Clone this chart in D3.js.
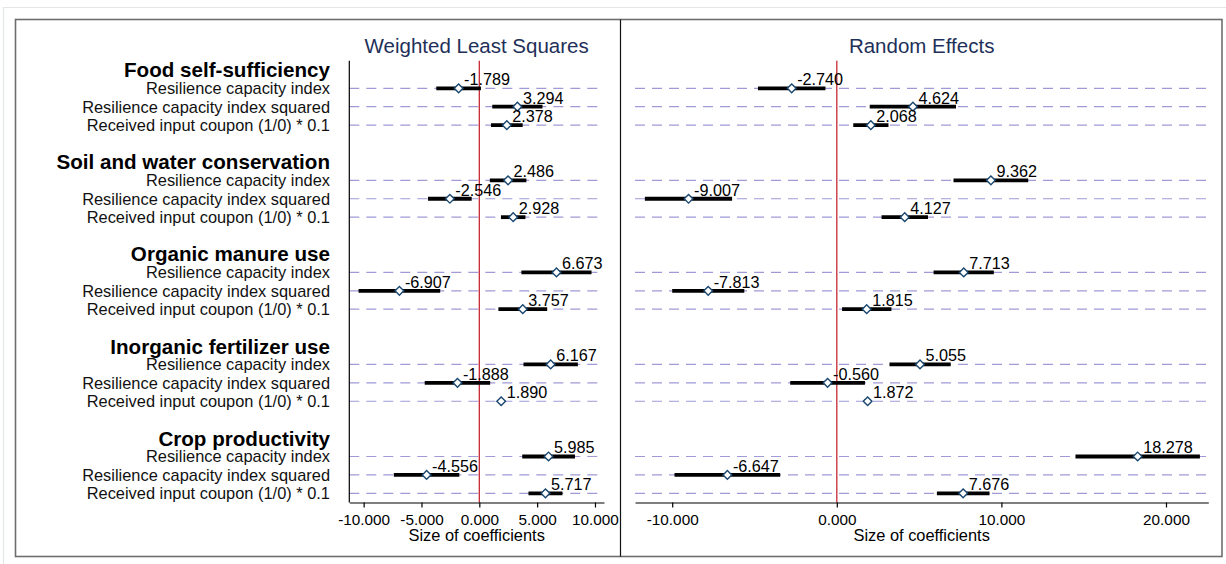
<!DOCTYPE html>
<html>
<head>
<meta charset="utf-8">
<script src="https://cdn.jsdelivr.net/npm/d3@7"></script>
<style>
  html, body { margin: 0; padding: 0; background: #ffffff; }
  svg { display: block; font-family: "Liberation Sans", Arial, Helvetica, sans-serif; }
</style>
</head>
<body>
<svg id="chart" width="1226" height="564"></svg>
<script>
// Outcome groups and the regressors reported within each group
const groups = ["Food self-sufficiency", "Soil and water conservation", "Organic manure use",
                "Inorganic fertilizer use", "Crop productivity"];
const terms = ["Resilience capacity index", "Resilience capacity index squared",
               "Received input coupon (1/0) * 0.1"];

// Weighted least squares: point estimates and 95% confidence bounds (group by group, term by term)
const wlsCoef = [-1.789, 3.294, 2.378, 2.486, -2.546, 2.928, 6.673, -6.907, 3.757,
                 6.167, -1.888, 1.890, 5.985, -4.556, 5.717];
const wlsLow  = [-3.72, 1.12, 1.01, 0.91, -4.44, 1.87, 3.64, -10.44, 1.65,
                 3.82, -4.72, 1.69, 3.71, -7.39, 4.25];
const wlsHigh = [0.14, 5.46, 3.75, 4.07, -0.66, 3.99, 9.70, -3.38, 5.87,
                 8.52, 0.94, 2.09, 8.27, -1.73, 7.19];

// Random effects: point estimates and 95% confidence bounds
const reCoef = [-2.740, 4.624, 2.068, 9.362, -9.007, 4.127, 7.713, -7.813, 1.815,
                5.055, -0.560, 1.872, 18.278, -6.647, 7.676];
const reLow  = [-4.79, 2.00, 1.00, 7.09, -11.66, 2.72, 5.88, -10.00, 0.32,
                3.20, -2.83, 1.67, 14.50, -9.86, 6.08];
const reHigh = [-0.69, 7.24, 3.14, 11.63, -6.36, 5.54, 9.54, -5.62, 3.32,
                6.92, 1.71, 2.07, 22.06, -3.44, 9.28];

// Axis tick values
const wlsTicks = [-10, -5, 0, 5, 10];
const reTicks = [-10, 0, 10, 20];

const svg = d3.select("#chart");
// Three decimals with a plain hyphen-minus
const fmt = d3.formatLocale({ decimal: ".", thousands: ",", grouping: [3], currency: ["", ""], minus: "-" }).format(".3f");

// Page border and graph frame
svg.append("path").attr("d", "M3.5,570 V7.5 H1232")
  .attr("fill", "none").attr("stroke", "#e3e8e7").attr("stroke-width", 1.2);
svg.append("rect").attr("x", 15.5).attr("y", 19.5).attr("width", 1206.5).attr("height", 537)
  .attr("fill", "none").attr("stroke", "#6e6e6e").attr("stroke-width", 1.6);
svg.append("line").attr("x1", 620.5).attr("x2", 620.5).attr("y1", 19.5).attr("y2", 556.5)
  .attr("stroke", "#111").attr("stroke-width", 1.2);

// Vertical position: each group has a heading slot plus three term slots and a spacer
const y = d3.scaleLinear().domain([-1.5, 22.5]).range([60.7, 502.5]);
const rows = [];
groups.forEach((g, gi) => terms.forEach((t, ti) => rows.push({ g: gi, t: ti, slot: gi * 5 + ti })));

function panel(opts) {
  const { x, title, coef, low, high, ticks, showLabels } = opts;
  const [x0, x1] = x.range();
  const p = svg.append("g");

  // Title
  p.append("text").attr("x", (x0 + x1) / 2).attr("y", 53)
    .attr("text-anchor", "middle").attr("font-size", 20.5).attr("fill", "#1e3059").text(title);

  // Dashed reference line for each row
  p.selectAll("line.grid").data(rows).join("line").attr("class", "grid")
    .attr("x1", x0).attr("x2", x1)
    .attr("y1", d => y(d.slot)).attr("y2", d => y(d.slot))
    .attr("stroke", "#a09bd6").attr("stroke-width", 1.2).attr("stroke-dasharray", "10,7");

  // Zero line
  p.append("line").attr("x1", x(0)).attr("x2", x(0)).attr("y1", y(-1.5)).attr("y2", y(22.5))
    .attr("stroke", "#c62834").attr("stroke-width", 1.3);

  // Left axis line (row labels side only)
  if (showLabels) {
    p.append("line").attr("x1", x0).attr("x2", x0).attr("y1", y(-1.5)).attr("y2", y(22.5))
      .attr("stroke", "#000").attr("stroke-width", 1.2);

    // Group headings
    p.selectAll("text.head").data(groups).join("text").attr("class", "head")
      .attr("x", 330).attr("y", (d, i) => y(i * 5 - 1) + 7.5)
      .attr("text-anchor", "end").attr("font-size", 20.6).attr("font-weight", "bold")
      .attr("fill", "#000").text(d => d);

    // Term labels
    p.selectAll("text.term").data(rows).join("text").attr("class", "term")
      .attr("x", 330).attr("y", d => y(d.slot) + 5.8)
      .attr("text-anchor", "end").attr("font-size", 16.4).attr("fill", "#111")
      .text(d => terms[d.t]);
  }

  // Bottom axis
  const ax = p.append("g").attr("transform", `translate(0,${y(22.5)})`)
    .call(d3.axisBottom(x).tickValues(ticks).tickFormat(fmt).tickSize(5).tickSizeOuter(0).tickPadding(7));
  ax.select(".domain").attr("stroke", "#000").attr("stroke-width", 1.2);
  ax.selectAll(".tick line").attr("stroke", "#000").attr("stroke-width", 1.2);
  ax.selectAll(".tick text").attr("font-size", 15.3).attr("fill", "#000")
    .attr("font-family", "Liberation Sans, Arial, sans-serif");

  p.append("text").attr("x", (x0 + x1) / 2).attr("y", 541)
    .attr("text-anchor", "middle").attr("font-size", 16.4).attr("fill", "#000")
    .text("Size of coefficients");

  // Confidence interval bars
  p.selectAll("line.ci").data(rows).join("line").attr("class", "ci")
    .attr("x1", (d, i) => x(low[i])).attr("x2", (d, i) => x(high[i]))
    .attr("y1", d => y(d.slot)).attr("y2", d => y(d.slot))
    .attr("stroke", "#000").attr("stroke-width", 3.8);

  // Point estimates
  p.selectAll("path.pt").data(rows).join("path").attr("class", "pt")
    .attr("d", d3.symbol(d3.symbolSquare, 38)())
    .attr("transform", (d, i) => `translate(${x(coef[i])},${y(d.slot)}) rotate(45)`)
    .attr("fill", "#fff").attr("stroke", "#1a476f").attr("stroke-width", 1.4);

  // Value labels
  p.selectAll("text.val").data(rows).join("text").attr("class", "val")
    .attr("x", (d, i) => x(coef[i]) + 5.5).attr("y", d => y(d.slot) - 3)
    .attr("font-size", 16.2).attr("fill", "#000")
    .text((d, i) => fmt(coef[i]));
}

panel({
  x: d3.scaleLinear().domain([-11.24, 10.78]).range([349.3, 604]),
  title: "Weighted Least Squares",
  coef: wlsCoef, low: wlsLow, high: wlsHigh, ticks: wlsTicks, showLabels: true
});

panel({
  x: d3.scaleLinear().domain([-12.26, 22.57]).range([635, 1208.3]),
  title: "Random Effects",
  coef: reCoef, low: reLow, high: reHigh, ticks: reTicks, showLabels: false
});
</script>
</body>
</html>
